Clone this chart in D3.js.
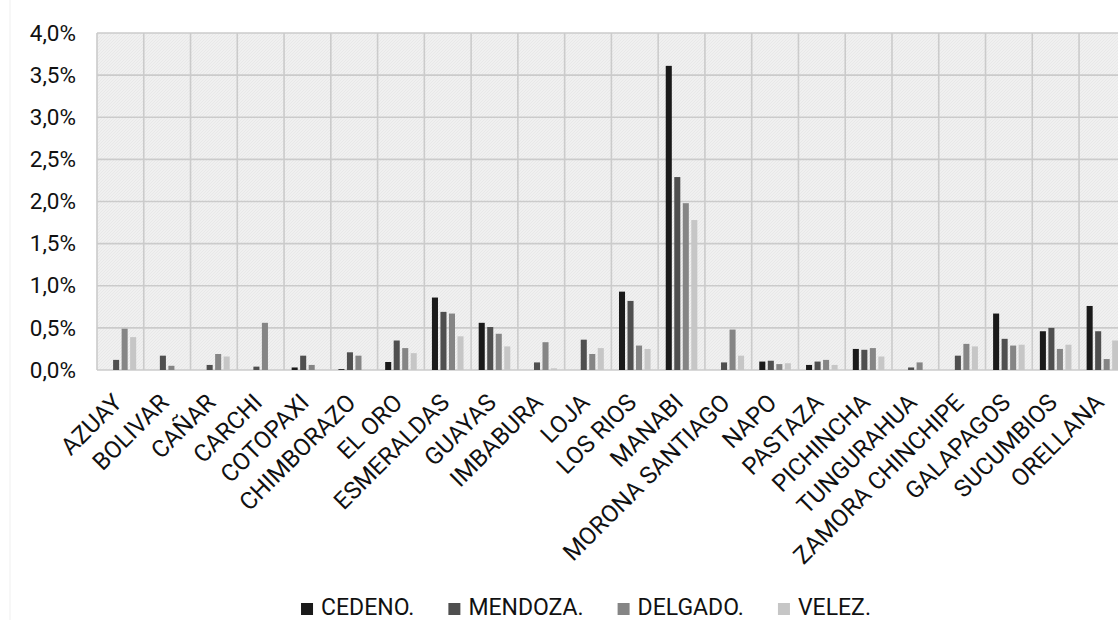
<!DOCTYPE html>
<html>
<head>
<meta charset="utf-8">
<script src="https://cdn.jsdelivr.net/npm/d3@7"></script>
<style>
  body { margin: 0; background: #fff; }
  svg { display: block; font-family: Roboto, "Noto Sans", sans-serif; }
</style>
</head>
<body>
<div id="chart"></div>
<script>
// data (percent)
var categories = ["AZUAY", "BOLIVAR", "CAÑAR", "CARCHI", "COTOPAXI", "CHIMBORAZO", "EL ORO",
    "ESMERALDAS", "GUAYAS", "IMBABURA", "LOJA", "LOS RIOS", "MANABI", "MORONA SANTIAGO",
    "NAPO", "PASTAZA", "PICHINCHA", "TUNGURAHUA", "ZAMORA CHINCHIPE", "GALAPAGOS",
    "SUCUMBIOS", "ORELLANA"];
var seriesNames = ["CEDENO.", "MENDOZA.", "DELGADO.", "VELEZ."];
var cedeno  = [0, 0, 0, 0, 0.03, 0.01, 0.095, 0.86, 0.56, 0, 0, 0.93, 3.61, 0, 0.10, 0.06, 0.25, 0, 0, 0.67, 0.46, 0.76];
var mendoza = [0.12, 0.17, 0.06, 0.04, 0.17, 0.21, 0.35, 0.69, 0.51, 0.09, 0.36, 0.82, 2.29, 0.09, 0.11, 0.10, 0.24, 0.03, 0.17, 0.37, 0.50, 0.46];
var delgado = [0.49, 0.05, 0.19, 0.56, 0.06, 0.17, 0.26, 0.67, 0.43, 0.33, 0.19, 0.29, 1.98, 0.48, 0.07, 0.12, 0.26, 0.09, 0.31, 0.29, 0.25, 0.13];
var velez   = [0.39, 0, 0.16, 0, 0, 0, 0.20, 0.40, 0.28, 0.02, 0.26, 0.25, 1.78, 0.17, 0.08, 0.06, 0.16, 0, 0.28, 0.30, 0.30, 0.35];
var yTicks = [0, 0.5, 1, 1.5, 2, 2.5, 3, 3.5, 4];

var colors = ["#1a1a1a", "#4f4f4f", "#858585", "#c6c6c6"];
var allSeries = [cedeno, mendoza, delgado, velez];

// dimensions
var W = 1118, H = 620;
var margin = { top: 33, left: 97 };
var plotW = 1028.8, plotH = 337;

var svg = d3.select("#chart").append("svg")
    .attr("width", W)
    .attr("height", H);

// background hatch pattern
var defs = svg.append("defs");
var pat = defs.append("pattern")
    .attr("id", "hatch")
    .attr("patternUnits", "userSpaceOnUse")
    .attr("width", 3).attr("height", 3);
pat.append("rect").attr("width", 3).attr("height", 3).attr("fill", "#f0f0f0");
pat.append("path").attr("d", "M0,3 L3,0").attr("stroke", "#e6e6e6").attr("stroke-width", 0.8);

// faint outer frame line on the left
svg.append("line")
    .attr("x1", 10).attr("x2", 10).attr("y1", 0).attr("y2", H)
    .attr("stroke", "#efefef");

var g = svg.append("g")
    .attr("transform", "translate(" + margin.left + "," + margin.top + ")");

var x0 = d3.scaleBand()
    .domain(categories)
    .range([0, plotW])
    .padding(0);

var x1 = d3.scaleBand()
    .domain(seriesNames)
    .range([6.4, x0.bandwidth() - 6.4])
    .paddingInner(0.29)
    .paddingOuter(0.14);

var y = d3.scaleLinear()
    .domain([0, 4])
    .range([plotH, 0]);

g.append("rect")
    .attr("width", plotW).attr("height", plotH)
    .attr("fill", "url(#hatch)");

// grid lines
g.selectAll(".hgrid")
    .data(yTicks)
    .enter().append("line")
    .attr("x1", 0).attr("x2", plotW)
    .attr("y1", function (d) { return y(d); })
    .attr("y2", function (d) { return y(d); })
    .attr("stroke", "#cbcbcb")
    .attr("stroke-width", 1.6);

g.selectAll(".vgrid")
    .data(categories.concat(["_end"]))
    .enter().append("line")
    .attr("x1", function (d, i) { return i * x0.step(); })
    .attr("x2", function (d, i) { return i * x0.step(); })
    .attr("y1", 0).attr("y2", plotH)
    .attr("stroke", "#cbcbcb")
    .attr("stroke-width", 1.6);

// y axis labels
var locale = d3.formatLocale({ decimal: ",", thousands: ".", grouping: [3], currency: ["", "€"] });
var fmt = locale.format(".1%");

var yAxis = g.append("g")
    .call(d3.axisLeft(y).tickValues(yTicks).tickSize(0).tickPadding(21)
        .tickFormat(function (d) { return fmt(d / 100); }));
yAxis.select(".domain").remove();
yAxis.selectAll("text")
    .attr("font-family", "Roboto, sans-serif")
    .attr("font-size", "22.5px")
    .attr("fill", "#111");

// bars
var groups = g.selectAll(".cat")
    .data(categories)
    .enter().append("g")
    .attr("transform", function (d) { return "translate(" + x0(d) + ",0)"; });

groups.selectAll("rect")
    .data(function (d, i) {
        return seriesNames.map(function (s, j) { return { s: s, j: j, v: allSeries[j][i] }; });
    })
    .enter().append("rect")
    .filter(function (d) { return d.v > 0; })
    .attr("x", function (d) { return x1(d.s); })
    .attr("width", x1.bandwidth())
    .attr("y", function (d) { return y(d.v); })
    .attr("height", function (d) { return plotH - y(d.v); })
    .attr("fill", function (d) { return colors[d.j]; });

// x labels, rotated
g.selectAll(".xlab")
    .data(categories)
    .enter().append("text")
    .attr("transform", function (d) {
        return "translate(" + (x0(d) + x0.bandwidth() / 2 + 3) + "," + (plotH + 34) + ") rotate(-45)";
    })
    .attr("text-anchor", "end")
    .attr("font-size", "24px")
    .attr("fill", "#111")
    .text(function (d) { return d; });

// legend
var legend = svg.append("g");
var lx = 0;
var items = legend.selectAll(".item")
    .data(seriesNames)
    .enter().append("g");
items.append("rect")
    .attr("width", 12).attr("height", 12)
    .attr("y", -12)
    .attr("fill", function (d, i) { return colors[i]; });
items.append("text")
    .attr("x", 20)
    .attr("font-size", "23px")
    .attr("fill", "#111")
    .text(function (d) { return d; });
items.each(function () {
    var el = d3.select(this);
    el.attr("transform", "translate(" + lx + ",0)");
    lx += 20 + el.select("text").node().getComputedTextLength() + 34;
});
lx -= 34;
legend.attr("transform", "translate(" + (586 - lx / 2) + ",615)");
</script>
</body>
</html>
